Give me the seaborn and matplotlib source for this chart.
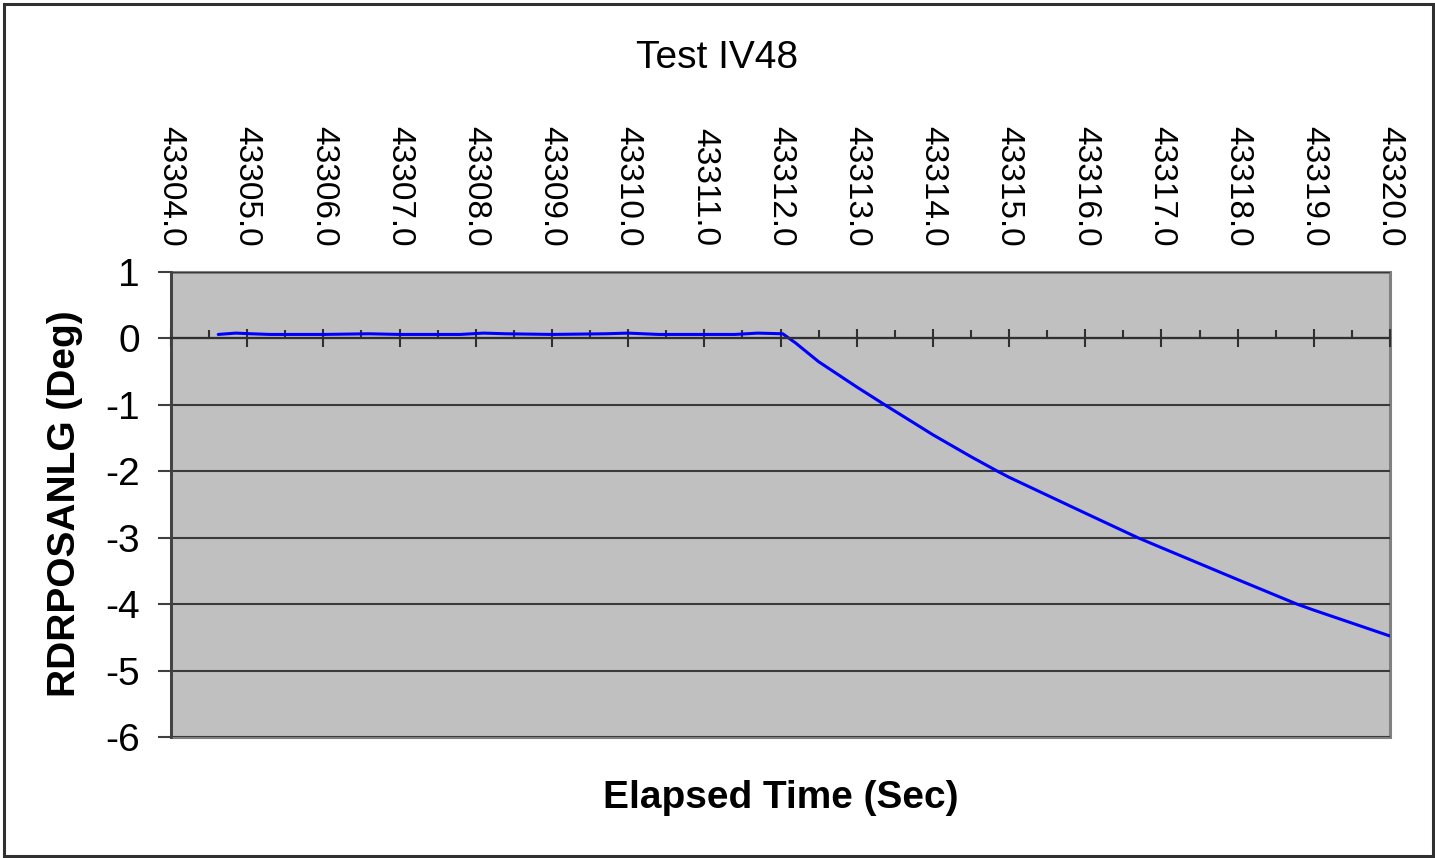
import numpy as np
import pandas as pd
import matplotlib
matplotlib.use("Agg")
import matplotlib.pyplot as plt
import seaborn as sns
from matplotlib.ticker import MultipleLocator, FormatStrFormatter
from matplotlib.patches import Rectangle

# ---- data ----
time_sec = [43304.62, 43304.85, 43305.05, 43305.30, 43306.00, 43306.60, 43307.00,
            43307.80, 43308.10, 43308.40, 43309.00, 43309.70, 43310.00, 43310.40,
            43311.00, 43311.40, 43311.70, 43312.03, 43312.20, 43312.50, 43313.00,
            43313.37, 43314.00, 43314.50, 43314.85, 43315.00, 43316.00, 43316.69,
            43317.00, 43318.00, 43318.78, 43319.00, 43320.00]
angle_deg = [0.06, 0.08, 0.07, 0.06, 0.06, 0.07, 0.06,
             0.06, 0.08, 0.07, 0.06, 0.07, 0.08, 0.06,
             0.06, 0.06, 0.08, 0.07, -0.07, -0.35, -0.73,
             -1.00, -1.45, -1.78, -2.00, -2.09, -2.63, -3.00,
             -3.15, -3.63, -4.00, -4.09, -4.48]
title = "Test IV48"
x_label = "Elapsed Time (Sec)"
y_label = "RDRPOSANLG (Deg)"

df = pd.DataFrame({"t": time_sec, "y": angle_deg})

sns.set_theme(style="white")
plt.rcParams["font.family"] = ["Liberation Sans", "DejaVu Sans"]
plt.rcParams["axes.unicode_minus"] = False
plt.rcParams["text.color"] = "black"
plt.rcParams["xtick.color"] = "black"
plt.rcParams["ytick.color"] = "black"

W, H = 1435, 858
fig = plt.figure(figsize=(W / 100, H / 100), dpi=100)
fig.patch.set_facecolor("white")

L, R, T, B = 171, 1390, 272, 737
ax = fig.add_axes([L / W, 1 - B / H, (R - L) / W, (B - T) / H])
ax.set_facecolor("#C0C0C0")

sns.lineplot(data=df, x="t", y="y", ax=ax, color="#0000FF", linewidth=2.2,
             sort=False, estimator=None)

ax.set_xlim(43304, 43320)
ax.set_ylim(-6, 1)
ax.set_xlabel("")
ax.set_ylabel("")

# gridlines
ax.yaxis.set_major_locator(MultipleLocator(1))
ax.grid(axis="y", color="#3a3a3a", linewidth=1.5)
ax.grid(axis="x", visible=False)
ax.set_axisbelow(True)

# spines
for s in ["top", "right"]:
    ax.spines[s].set_visible(False)
ax.spines["left"].set_color("#404040")
ax.spines["left"].set_linewidth(2)
ax.spines["bottom"].set_position(("data", 0))
ax.spines["bottom"].set_color("#303030")
ax.spines["bottom"].set_linewidth(1.6)
ax.add_patch(Rectangle((0, 0), 1, 1, transform=ax.transAxes, fill=False,
                       edgecolor="#808080", linewidth=2.2, clip_on=False, zorder=0.5))

# x ticks
ax.xaxis.set_major_locator(MultipleLocator(1))
ax.xaxis.set_minor_locator(MultipleLocator(0.5))
ax.xaxis.set_major_formatter(FormatStrFormatter("%.1f"))
ax.tick_params(axis="x", which="major", bottom=True, top=False, labelbottom=False,
               labeltop=True, direction="inout", length=13, width=1.5, color="#303030",
               labelsize=24, labelrotation=-90, pad=12, labelcolor="black")
ax.tick_params(axis="x", which="minor", bottom=True, top=False, direction="in",
               length=6, width=1.5, color="#303030")
for lab in ax.get_xticklabels():
    lab.set_verticalalignment("bottom")

# y ticks
ax.tick_params(axis="y", which="major", left=True, direction="out", length=9.5,
               width=1.5, color="#404040", labelsize=28, pad=13, labelcolor="black")

# texts
fig.text(0.5, 1 - 68 / H, title, ha="center", va="baseline", fontsize=28, color="black")
fig.text(780.5 / W, 1 - 808 / H, x_label, ha="center", va="baseline",
         fontsize=28, fontweight="bold", color="black")
fig.text(65 / W, 1 - 504 / H, y_label, ha="center", va="center", rotation=90,
         fontsize=28, fontweight="bold", color="black")

# outer chart border
fig.patches.append(Rectangle((4 / W, 2 / H), 1429 / W, 1 - 6 / H,
                             transform=fig.transFigure, fill=False,
                             edgecolor="#303030", linewidth=2.2))

fig.savefig("out.png", dpi=100, facecolor="white")
